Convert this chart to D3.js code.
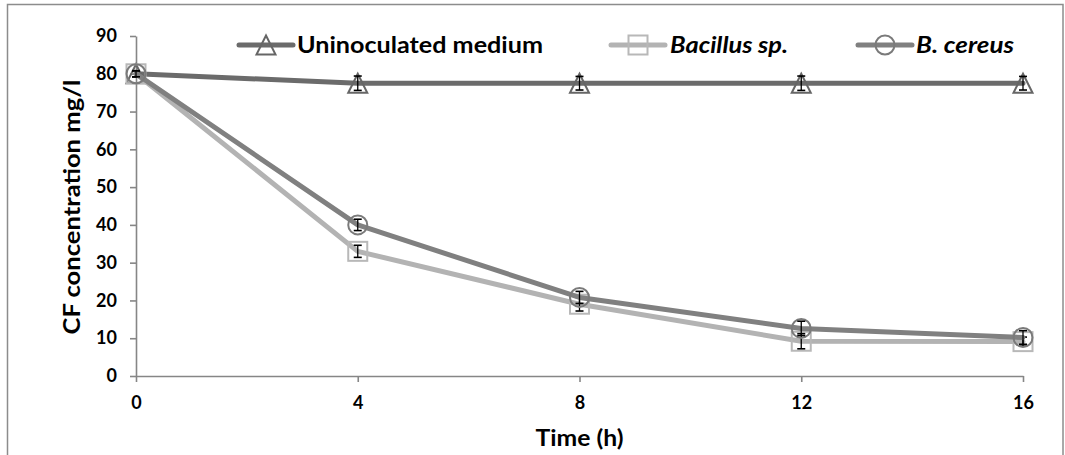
<!DOCTYPE html>
<html>
<head>
<meta charset="utf-8">
<script src="https://cdn.jsdelivr.net/npm/d3@7"></script>
<style>
  html, body { margin: 0; padding: 0; background: #fff; }
  svg { display: block; font-family: Lato, "Open Sans", sans-serif; }
</style>
</head>
<body>
<svg id="chart" width="1065" height="455"></svg>
<script>
// ---- data ----
const times = [0, 4, 8, 12, 16];
const uninoculated = [80, 77.5, 77.5, 77.5, 77.5];
const uninoculatedErr = [0.8, 1.9, 1.8, 1.9, 1.8];
const bacillus = [80, 33, 19, 9.2, 9.1];
const bacillusErr = [0.8, 1.6, 1.8, 2.0, 1.2];
const cereus = [80, 40, 20.8, 12.6, 10.2];
const cereusErr = [0.8, 1.5, 1.6, 1.9, 1.8];
const seriesNames = ["Uninoculated medium", "Bacillus sp.", "B. cereus"];
const yTicks = [0, 10, 20, 30, 40, 50, 60, 70, 80, 90];
const xTicks = [0, 4, 8, 12, 16];

const series = [
  { name: seriesNames[0], values: uninoculated, err: uninoculatedErr, color: "#6b6b6b", mcolor: "#666666", marker: "triangle", italic: false },
  { name: seriesNames[1], values: bacillus, err: bacillusErr, color: "#b3b3b3", mcolor: "#b8b8b8", marker: "square", italic: true },
  { name: seriesNames[2], values: cereus, err: cereusErr, color: "#808080", mcolor: "#7a7a7a", marker: "circle", italic: true }
];

const svg = d3.select("#chart");
const x = d3.scaleLinear().domain([0, 16]).range([136, 1023]);
const y = d3.scaleLinear().domain([0, 90]).range([376, 36]);

// outer border
svg.append("rect").attr("x", 7.5).attr("y", 4.5).attr("width", 1055.5).attr("height", 460)
  .attr("fill", "none").attr("stroke", "#8c8c8c").attr("stroke-width", 1.5);

const axisColor = "#868686";

// y axis
const gy = svg.append("g").attr("transform", `translate(${x(0)},0)`)
  .call(d3.axisLeft(y).tickValues(yTicks).tickSize(6).tickSizeOuter(0).tickPadding(13));
// x axis
const gx = svg.append("g").attr("transform", `translate(0,${y(0)})`)
  .call(d3.axisBottom(x).tickValues(xTicks).tickSize(6).tickSizeOuter(0).tickPadding(14));
[gx, gy].forEach(g => {
  g.select(".domain").attr("stroke", axisColor).attr("stroke-width", 1.6);
  g.selectAll(".tick line").attr("stroke", axisColor).attr("stroke-width", 1.6);
  g.selectAll(".tick text").attr("fill", "#000").style("font-size", "18px").style("font-weight", 700)
    .style("font-family", "Lato, 'Open Sans', sans-serif");
});

// axis titles
svg.append("text").attr("transform", `translate(80,207) rotate(-90)`)
  .attr("text-anchor", "middle").style("font-size", "22px").style("font-weight", 700)
  .attr("textLength", 255).attr("lengthAdjust", "spacingAndGlyphs")
  .text("CF concentration mg/l");
svg.append("text").attr("x", x(8)).attr("y", 446)
  .attr("text-anchor", "middle").style("font-size", "22px").style("font-weight", 700)
  .attr("textLength", 88).attr("lengthAdjust", "spacingAndGlyphs")
  .text("Time (h)");

function drawMarker(g, type, cx, cy, color) {
  if (type === "triangle") {
    const s = 19;
    g.append("path")
      .attr("d", `M${cx},${cy - s / 2}L${cx + s / 2},${cy + s / 2}L${cx - s / 2},${cy + s / 2}Z`)
      .attr("fill", "none").attr("stroke", color).attr("stroke-width", 2);
  } else if (type === "square") {
    const s = 19;
    g.append("rect").attr("x", cx - s / 2).attr("y", cy - s / 2).attr("width", s).attr("height", s)
      .attr("fill", "none").attr("stroke", color).attr("stroke-width", 2);
  } else {
    g.append("circle").attr("cx", cx).attr("cy", cy).attr("r", 9.5)
      .attr("fill", "none").attr("stroke", color).attr("stroke-width", 2);
  }
}

const line = d3.line().x((d, i) => x(times[i])).y(d => y(d));

series.forEach(s => {
  const g = svg.append("g");
  g.append("path").attr("d", line(s.values)).attr("fill", "none")
    .attr("stroke", s.color).attr("stroke-width", 5).attr("stroke-linejoin", "round").attr("stroke-linecap", "round");
  s.values.forEach((v, i) => drawMarker(g, s.marker, x(times[i]), y(v), s.mcolor));
  // error bars
  s.values.forEach((v, i) => {
    const cx = x(times[i]);
    const y1 = y(v + s.err[i]), y2 = y(v - s.err[i]);
    g.append("line").attr("x1", cx).attr("x2", cx).attr("y1", y1).attr("y2", y2)
      .attr("stroke", "#000").attr("stroke-width", 1.3);
    [y1, y2].forEach(yy => g.append("line").attr("x1", cx - 4).attr("x2", cx + 4).attr("y1", yy).attr("y2", yy)
      .attr("stroke", "#000").attr("stroke-width", 1.6));
  });
});

// legend
const legendItems = [
  { lx1: 239, lx2: 293, tx: 297, tw: 246 },
  { lx1: 611, lx2: 665, tx: 670, tw: 118 },
  { lx1: 858, lx2: 912, tx: 916, tw: 98 }
];
series.forEach((s, i) => {
  const L = legendItems[i];
  const g = svg.append("g");
  g.append("line").attr("x1", L.lx1).attr("x2", L.lx2).attr("y1", 45).attr("y2", 45)
    .attr("stroke", s.color).attr("stroke-width", 5).attr("stroke-linecap", "round");
  drawMarker(g, s.marker, (L.lx1 + L.lx2) / 2, 45, s.mcolor);
  g.append("text").attr("x", L.tx).attr("y", 53).style("font-size", "22px").style("font-weight", 700)
    .style("font-style", s.italic ? "italic" : "normal")
    .attr("textLength", L.tw).attr("lengthAdjust", "spacingAndGlyphs")
    .text(s.name);
});
</script>
</body>
</html>
